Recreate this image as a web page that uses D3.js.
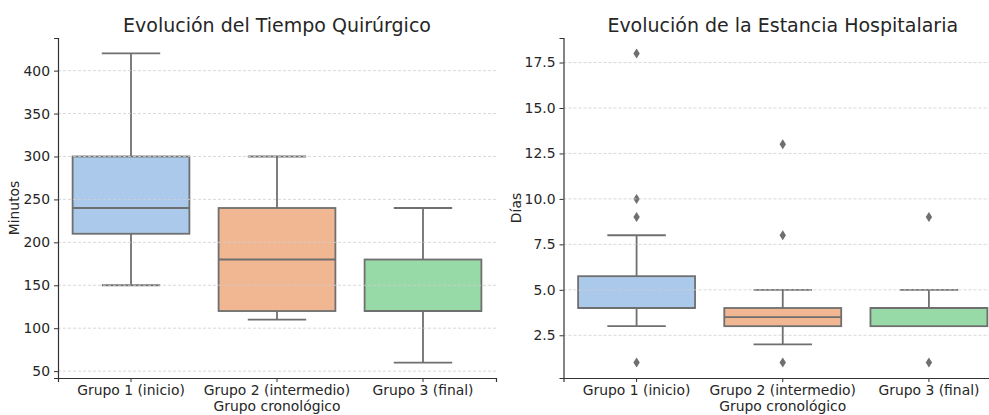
<!DOCTYPE html>
<html>
<head>
<meta charset="utf-8">
<script src="https://cdnjs.cloudflare.com/ajax/libs/d3/7.8.5/d3.min.js"></script>
<style>
  body { margin: 0; background: #fff; }
  svg text { fill: #262626; font-family: "DejaVu Sans", sans-serif; }
</style>
</head>
<body>
<svg id="fig" width="989" height="415"></svg>
<script>
// categories shared by both panels
var groups = ["Grupo 1 (inicio)", "Grupo 2 (intermedio)", "Grupo 3 (final)"];
var colors = ["#abc9ea", "#f0b792", "#98daa7"];

// surgical time (minutes): whisker low, Q1, median, Q3, whisker high
var minLow  = [150, 110, 60];
var minQ1   = [210, 120, 120];
var minMed  = [240, 180, 120];
var minQ3   = [300, 240, 180];
var minHigh = [420, 300, 240];
var minOutliers = [[], [], []];
var minTicks = [50, 100, 150, 200, 250, 300, 350, 400];

// hospital stay (days)
var dayLow  = [3, 2, 3];
var dayQ1   = [4, 3, 3];
var dayMed  = [4, 3.5, 4];
var dayQ3   = [5.75, 4, 4];
var dayHigh = [8, 5, 5];
var dayOutliers = [[1, 9, 10, 18], [1, 8, 13], [1, 9]];
var dayTicks = [2.5, 5.0, 7.5, 10.0, 12.5, 15.0, 17.5];

var svg = d3.select("#fig");
var edge = "#6f6f6f";
var FONT = "DejaVu Sans";

function panel(opt) {
  var x = d3.scaleBand().domain(groups).range([opt.left, opt.right]).paddingInner(0).paddingOuter(0);
  var y = d3.scaleLinear().domain(opt.domain).range([378, 38]);
  var g = svg.append("g");
  var bw = x.bandwidth() * 0.8;

  var stats = groups.map(function(k, i) {
    return {k: k, lo: opt.lo[i], q1: opt.q1[i], med: opt.med[i], q3: opt.q3[i], hi: opt.hi[i],
            out: opt.out[i], c: colors[i]};
  });

  var b = g.selectAll("g.box").data(stats).enter().append("g").attr("class", "box");
  var cx = function(d) { return x(d.k) + x.bandwidth() / 2; };

  // whiskers
  b.append("line").attr("x1", cx).attr("x2", cx)
    .attr("y1", function(d) { return y(d.q3); }).attr("y2", function(d) { return y(d.hi); })
    .attr("stroke", edge).attr("stroke-width", 1.8);
  b.append("line").attr("x1", cx).attr("x2", cx)
    .attr("y1", function(d) { return y(d.q1); }).attr("y2", function(d) { return y(d.lo); })
    .attr("stroke", edge).attr("stroke-width", 1.8);
  // caps
  ["hi", "lo"].forEach(function(p) {
    b.append("line")
      .attr("x1", function(d) { return cx(d) - bw / 4; })
      .attr("x2", function(d) { return cx(d) + bw / 4; })
      .attr("y1", function(d) { return y(d[p]); })
      .attr("y2", function(d) { return y(d[p]); })
      .attr("stroke", edge).attr("stroke-width", 1.8);
  });
  // box
  b.append("rect")
    .attr("x", function(d) { return cx(d) - bw / 2; })
    .attr("width", bw)
    .attr("y", function(d) { return y(d.q3); })
    .attr("height", function(d) { return y(d.q1) - y(d.q3); })
    .attr("fill", function(d) { return d.c; })
    .attr("stroke", edge).attr("stroke-width", 1.8);
  // median
  b.append("line")
    .attr("x1", function(d) { return cx(d) - bw / 2; })
    .attr("x2", function(d) { return cx(d) + bw / 2; })
    .attr("y1", function(d) { return y(d.med); })
    .attr("y2", function(d) { return y(d.med); })
    .attr("stroke", edge).attr("stroke-width", 1.8);
  // outliers (thin diamonds)
  b.selectAll("path.flier").data(function(d) { return d.out.map(function(v) { return {k: d.k, v: v}; }); })
    .enter().append("path").attr("class", "flier")
    .attr("d", "M0,-5L3.2,0L0,5L-3.2,0Z")
    .attr("transform", function(d) { return "translate(" + cx(d) + "," + y(d.v) + ")"; })
    .attr("fill", edge);

  // grid (drawn above boxes, as in the reference)
  g.selectAll("line.grid").data(opt.ticks).enter().append("line")
    .attr("x1", opt.left).attr("x2", opt.right)
    .attr("y1", function(d) { return y(d); }).attr("y2", function(d) { return y(d); })
    .attr("stroke", "#cfcfcf").attr("stroke-width", 0.8).attr("stroke-dasharray", "3,2");

  // axes
  var ya = g.append("g").attr("transform", "translate(" + opt.left + ",0)")
    .call(d3.axisLeft(y).tickValues(opt.ticks).tickFormat(opt.fmt).tickSizeOuter(0).tickSize(4).tickPadding(4));
  var xa = g.append("g").attr("transform", "translate(0,378)")
    .call(d3.axisBottom(x).tickSizeOuter(0).tickSize(4).tickPadding(3));
  [ya, xa].forEach(function(a) {
    a.attr("font-family", FONT).attr("font-size", 13.9);
    a.select(".domain").attr("stroke", "#333").attr("stroke-width", 1.2);
    a.selectAll(".tick line").attr("stroke", "#333");
    a.selectAll(".tick text").attr("fill", "#262626");
  });

  var mid = (opt.left + opt.right) / 2;
  g.append("text").attr("x", mid).attr("y", 32).attr("text-anchor", "middle")
    .attr("font-family", FONT).attr("font-size", 19).text(opt.title);
  g.append("text").attr("x", mid).attr("y", 411).attr("text-anchor", "middle")
    .attr("font-family", FONT).attr("font-size", 13.9).text("Grupo cronológico");
  g.append("text").attr("transform", "translate(" + opt.ylx + ",208) rotate(-90)")
    .attr("text-anchor", "middle").attr("font-family", FONT).attr("font-size", 13.9).text(opt.ylabel);
}

panel({
  left: 58, right: 496, domain: [42, 438],
  lo: minLow, q1: minQ1, med: minMed, q3: minQ3, hi: minHigh, out: minOutliers,
  ticks: minTicks, fmt: d3.format("d"),
  title: "Evolución del Tiempo Quirúrgico", ylabel: "Minutos", ylx: 19
});
panel({
  left: 563.5, right: 1002, domain: [0.15, 18.85],
  lo: dayLow, q1: dayQ1, med: dayMed, q3: dayQ3, hi: dayHigh, out: dayOutliers,
  ticks: dayTicks, fmt: d3.format(".1f"),
  title: "Evolución de la Estancia Hospitalaria", ylabel: "Días", ylx: 521
});
</script>
</body>
</html>
